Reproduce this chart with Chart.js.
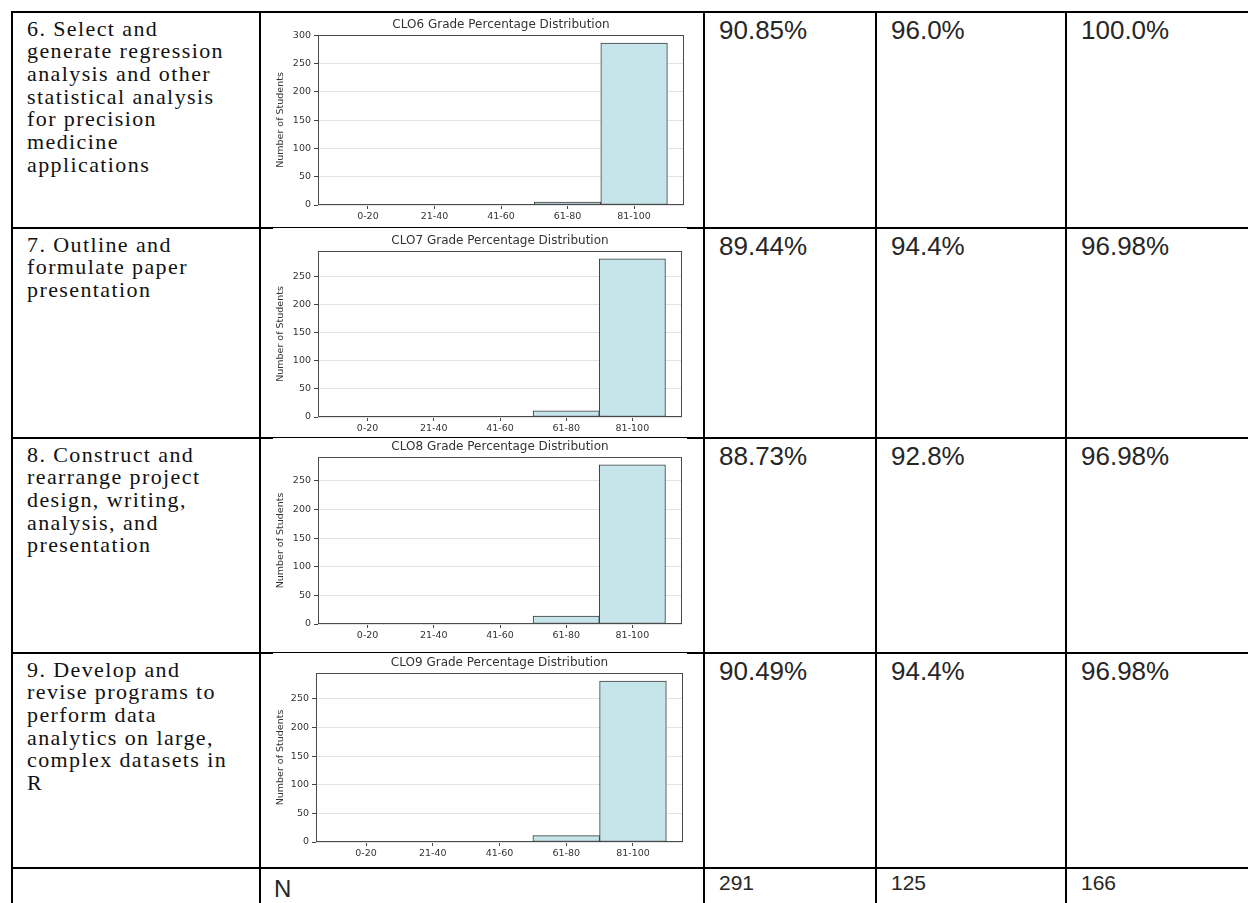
<!DOCTYPE html>
<html>
<head>
<meta charset="utf-8">
<title>CLO Grade Percentage Distribution</title>
<script src="https://cdn.jsdelivr.net/npm/chart.js@4.4.0/dist/chart.umd.min.js"></script>
<style>
  body { margin: 0; background: #fff; }
  #page { position: relative; width: 1248px; height: 903px; overflow: hidden; background: #fff; }
  .line { position: absolute; background: #000; }
  .clo { position: absolute; left: 27px; font-family: "Liberation Serif", "Times New Roman", serif; font-size: 22px; line-height: 22.7px; letter-spacing: 1.4px; color: #111; white-space: nowrap; }
  .pct { position: absolute; font-family: "Liberation Sans", Arial, sans-serif; font-size: 26px; line-height: 26px; color: #262626; white-space: nowrap; }
  .nrow { position: absolute; font-family: "Liberation Sans", Arial, sans-serif; color: #262626; white-space: nowrap; }
  .box { position: absolute; left: 262px; width: 440px; }
</style>
</head>
<body>
<div id="page"></div>
<script>
// categorias del histograma
const gradeBins = ['0-20', '21-40', '41-60', '61-80', '81-100'];

const clo6Counts = [0, 0, 0, 5, 286];
const clo7Counts = [0, 0, 0, 11, 281];
const clo8Counts = [0, 0, 0, 14, 278];
const clo9Counts = [0, 0, 0, 11, 281];

const cloTitles = [
  'CLO6 Grade Percentage Distribution',
  'CLO7 Grade Percentage Distribution',
  'CLO8 Grade Percentage Distribution',
  'CLO9 Grade Percentage Distribution'
];

// texto de la primera columna, linea por linea
const cloDescriptions = [
  ['6. Select and', 'generate regression', 'analysis and other', 'statistical analysis', 'for precision', 'medicine', 'applications'],
  ['7. Outline and', 'formulate paper', 'presentation'],
  ['8. Construct and', 'rearrange project', 'design, writing,', 'analysis, and', 'presentation'],
  ['9. Develop and', 'revise programs to', 'perform data', 'analytics on large,', 'complex datasets in', 'R']
];

const col3Values = ['90.85%', '89.44%', '88.73%', '90.49%'];
const col4Values = ['96.0%', '94.4%', '92.8%', '94.4%'];
const col5Values = ['100.0%', '96.98%', '96.98%', '96.98%'];
const nLabel = 'N';
const nValues = ['291', '125', '166'];
const yTickValues = [0, 50, 100, 150, 200, 250, 300];

const cloCounts = [clo6Counts, clo7Counts, clo8Counts, clo9Counts];

// posiciones de la tabla
const colX = [12, 260, 704, 876, 1066];
const rowY = [12, 228, 438, 653, 868];

// donde cae cada grafico dentro de la celda
const chartBoxes = [
  { top: 14, bottom: 226, plotLeft: 318, plotRight: 684, titleY: 25, plotTop: 35, plotBottom: 205 },
  { top: 230, bottom: 436, plotLeft: 318, plotRight: 682, titleY: 241, plotTop: 251, plotBottom: 417 },
  { top: 440, bottom: 651, plotLeft: 318, plotRight: 682, titleY: 447, plotTop: 457, plotBottom: 624 },
  { top: 655, bottom: 866, plotLeft: 316, plotRight: 683, titleY: 663, plotTop: 673, plotBottom: 842 }
];

let page = document.getElementById('page');

function addLine(x, y, w, h) {
  let d = document.createElement('div');
  d.className = 'line';
  d.style.left = x + 'px';
  d.style.top = y + 'px';
  d.style.width = w + 'px';
  d.style.height = h + 'px';
  page.appendChild(d);
}

function addText(cls, x, y, html, extra) {
  let d = document.createElement('div');
  d.className = cls;
  d.style.left = x + 'px';
  d.style.top = y + 'px';
  d.innerHTML = html;
  if (extra) Object.assign(d.style, extra);
  page.appendChild(d);
}

//Lineas verticales
colX.forEach(x => addLine(x - 1, 11, 2, 903));

//Lineas horizontales (en la columna del grafico la linea es mas delgada)
rowY.forEach((y, r) => {
  if (r === 0 || r === rowY.length - 1) {
    addLine(11, y - 1, 1248, 2);
  } else {
    addLine(11, y - 1, 262, 2);
    addLine(273, y - 1, 414, 1);
    addLine(687, y - 1, 600, 2);
  }
});

//Texto de las filas
for (let r = 0; r < cloDescriptions.length; r++) {
  addText('clo', 27, rowY[r] + 5.5, cloDescriptions[r].join('<br>'));
  addText('pct', colX[2] + 15, rowY[r] + 4.6, col3Values[r]);
  addText('pct', colX[3] + 15, rowY[r] + 4.6, col4Values[r]);
  addText('pct', colX[4] + 15, rowY[r] + 4.6, col5Values[r]);
}

//Fila N
addText('nrow', 274, rowY[4] + 9, nLabel, { fontSize: '24px', lineHeight: '24px' });
for (let c = 0; c < nValues.length; c++) {
  addText('nrow', colX[c + 2] + 15, rowY[4] + 4, nValues[c], { fontSize: '21px', lineHeight: '21px' });
}

Chart.defaults.font.family = '"DejaVu Sans", sans-serif';
Chart.defaults.color = '#333';

// marco tipo matplotlib alrededor del area
const framePlugin = {
  id: 'frame',
  afterDatasetsDraw(chart) {
    let a = chart.chartArea;
    let ctx = chart.ctx;
    ctx.save();
    ctx.strokeStyle = '#4a4a4a';
    ctx.lineWidth = 1;
    ctx.strokeRect(Math.round(a.left) + 0.5, Math.round(a.top) + 0.5, Math.round(a.width) - 1, Math.round(a.height) - 1);
    ctx.restore();
  }
};

//Funcion para generar cada grafico
function makeChart(idx) {
  let box = chartBoxes[idx];
  let counts = cloCounts[idx];
  let holder = document.createElement('div');
  holder.className = 'box';
  holder.style.top = box.top + 'px';
  holder.style.height = (box.bottom - box.top) + 'px';
  let canvas = document.createElement('canvas');
  holder.appendChild(canvas);
  page.appendChild(holder);

  let titleSize = 12;
  let titleLine = titleSize * 1.2;
  let padTop = box.titleY - box.top - titleLine / 2;
  let padBottom = box.plotTop - box.top - padTop - titleLine;
  let yMax = Math.max(...counts) * 1.05; // margen de 5% como matplotlib

  new Chart(canvas, {
    type: 'bar',
    data: {
      datasets: [{
        label: cloTitles[idx],
        data: gradeBins.map((b, i) => ({ x: i, y: counts[i] })),
        backgroundColor: 'rgb(197, 229, 235)',
        borderColor: '#3c3c3c',
        borderWidth: 1,
        borderSkipped: false,
        barPercentage: 1,
        categoryPercentage: 1
      }]
    },
    options: {
      responsive: true,
      maintainAspectRatio: false,
      animation: false,
      layout: { padding: { left: 0, right: 702 - box.plotRight, top: 0, bottom: 0 } },
      plugins: {
        legend: { display: false },
        tooltip: { enabled: false },
        title: {
          display: true,
          fullSize: false, // centrado sobre el area del grafico
          text: cloTitles[idx],
          color: '#333',
          font: { size: titleSize, weight: 'normal' },
          padding: { top: padTop, bottom: padBottom }
        }
      },
      scales: {
        x: {
          type: 'linear',
          min: -0.75,
          max: 4.75,
          offset: false,
          border: { display: false },
          grid: { drawOnChartArea: false, offset: false, tickLength: 4, color: '#444' },
          ticks: {
            font: { size: 9.5 },
            color: '#333',
            padding: 2,
            autoSkip: false,
            maxRotation: 0,
            callback: v => gradeBins[v] !== undefined ? gradeBins[v] : ''
          },
          afterBuildTicks: axis => { axis.ticks = gradeBins.map((b, i) => ({ value: i })); },
          afterFit: scale => { scale.height = box.bottom - box.plotBottom; }
        },
        y: {
          min: 0,
          max: yMax,
          border: { display: false },
          grid: { color: '#e3e3e3', tickColor: '#444', tickLength: 4 },
          ticks: { font: { size: 9.5 }, color: '#333', padding: 3 },
          title: {
            display: true,
            text: 'Number of Students',
            color: '#333',
            font: { size: 9.5 },
            padding: { top: 13, bottom: 0 }
          },
          afterBuildTicks: axis => {
            axis.ticks = yTickValues.filter(v => v <= yMax).map(v => ({ value: v }));
          },
          afterFit: scale => { scale.width = box.plotLeft - 262; }
        }
      }
    },
    plugins: [framePlugin]
  });
}

for (let k = 0; k < cloCounts.length; k++) {
  makeChart(k);
}
</script>
</body>
</html>
